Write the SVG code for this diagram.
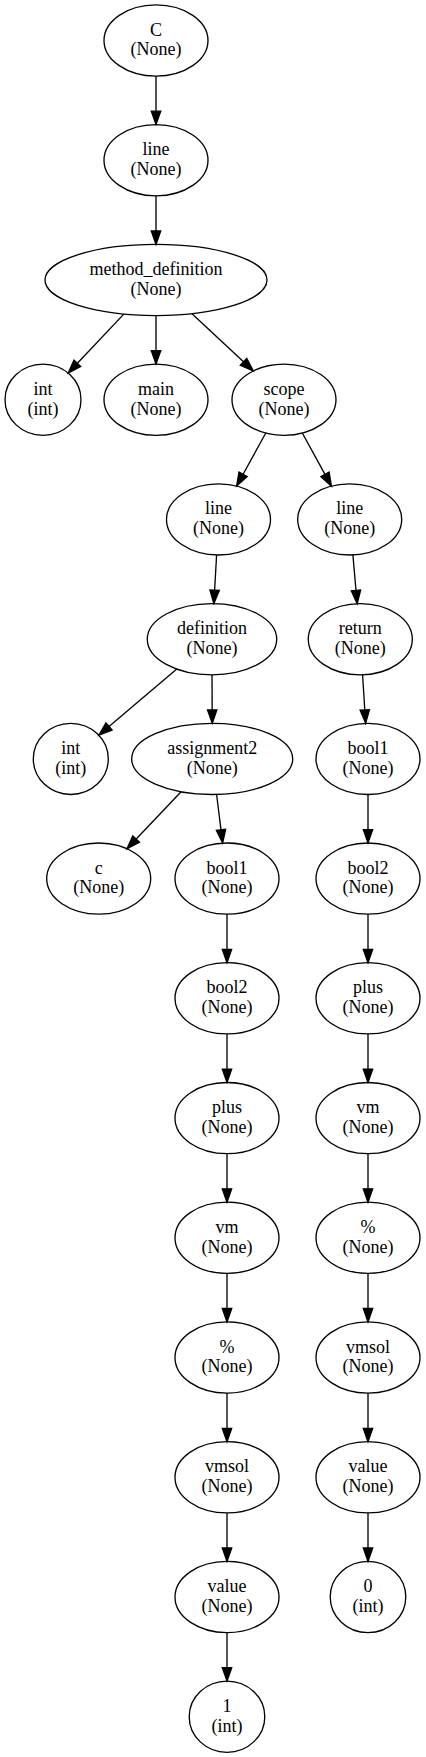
<svg xmlns="http://www.w3.org/2000/svg" width="426" height="1757" viewBox="0 0 426 1757">
<style>
ellipse{fill:none;stroke:#000;stroke-width:1.33}
text{font-family:"Liberation Serif","Times New Roman",serif;font-size:18px;text-anchor:middle;fill:#000}
.e path{fill:none;stroke:#000;stroke-width:1.33;marker-end:url(#arr)}
</style>
<defs>
<marker id="arr" markerUnits="userSpaceOnUse" markerWidth="14" markerHeight="10" refX="0" refY="4.7" orient="auto" overflow="visible"><path d="M0,0 L13.4,4.7 L0,9.4 z" fill="#000" stroke="#000" stroke-width="1.33"/></marker>
</defs>
<rect width="426" height="1757" fill="#fff"/>
<g id="connectors" class="e">
<path d="M156,76.1 L156,111.2"/>
<path d="M156,195.8 L156,231"/>
<path d="M123.8,314.1 L77.4,363.3"/>
<path d="M156,315.6 L156,350.7"/>
<path d="M192,313.7 L243.5,361.8"/>
<path d="M265.8,433 L243.1,474.3"/>
<path d="M302.3,433 L325,474.4"/>
<path d="M216.6,555 L214.6,590.2"/>
<path d="M352.9,555 L356,590.3"/>
<path d="M176.8,669.1 L109,726.5"/>
<path d="M212,674.8 L212.2,709.9"/>
<path d="M362.6,674.8 L364.8,709.9"/>
<path d="M181.1,791.7 L136.2,839"/>
<path d="M216.6,794.5 L221,829.8"/>
<path d="M368,794.5 L368,829.6"/>
<path d="M227,914.2 L227,949.3"/>
<path d="M227,1033.9 L227,1069.1"/>
<path d="M227,1153.7 L227,1188.8"/>
<path d="M227,1273.4 L227,1308.5"/>
<path d="M227,1393.1 L227,1428.3"/>
<path d="M227,1512.9 L227,1548"/>
<path d="M227,1632.6 L227,1667.7"/>
<path d="M368,914.2 L368,949.3"/>
<path d="M368,1033.9 L368,1069.1"/>
<path d="M368,1153.7 L368,1188.8"/>
<path d="M368,1273.4 L368,1308.5"/>
<path d="M368,1393.1 L368,1428.3"/>
<path d="M368,1512.9 L368,1548"/>
</g>
<g id="n_C"><ellipse cx="156" cy="40.5" rx="52" ry="35.6"/><text x="156" y="35.5">C</text><text x="156" y="55.3">(None)</text></g>
<g id="n_line0"><ellipse cx="156" cy="160.2" rx="52" ry="35.6"/><text x="156" y="155.2">line</text><text x="156" y="175">(None)</text></g>
<g id="n_method_definition"><ellipse cx="156" cy="280" rx="111" ry="35.6"/><text x="156" y="275">method_definition</text><text x="156" y="294.8">(None)</text></g>
<g id="n_int0"><ellipse cx="43" cy="399.7" rx="38" ry="35.6"/><text x="43" y="394.7">int</text><text x="43" y="414.5">(int)</text></g>
<g id="n_main"><ellipse cx="156" cy="399.7" rx="52" ry="35.6"/><text x="156" y="394.7">main</text><text x="156" y="414.5">(None)</text></g>
<g id="n_scope"><ellipse cx="284" cy="399.7" rx="52" ry="35.6"/><text x="284" y="394.7">scope</text><text x="284" y="414.5">(None)</text></g>
<g id="n_line1"><ellipse cx="218.5" cy="519.4" rx="52" ry="35.6"/><text x="218.5" y="514.4">line</text><text x="218.5" y="534.2">(None)</text></g>
<g id="n_line2"><ellipse cx="349.7" cy="519.4" rx="52" ry="35.6"/><text x="349.7" y="514.4">line</text><text x="349.7" y="534.2">(None)</text></g>
<g id="n_definition"><ellipse cx="212" cy="639.2" rx="64.7" ry="35.6"/><text x="212" y="634.2">definition</text><text x="212" y="654">(None)</text></g>
<g id="n_return"><ellipse cx="360.3" cy="639.2" rx="52" ry="35.6"/><text x="360.3" y="634.2">return</text><text x="360.3" y="654">(None)</text></g>
<g id="n_int1"><ellipse cx="70.8" cy="758.9" rx="37.5" ry="35.6"/><text x="70.8" y="753.9">int</text><text x="70.8" y="773.7">(int)</text></g>
<g id="n_assignment2"><ellipse cx="212.2" cy="758.9" rx="80.5" ry="35.6"/><text x="212.2" y="753.9">assignment2</text><text x="212.2" y="773.7">(None)</text></g>
<g id="n_bool1_r"><ellipse cx="368" cy="758.9" rx="52" ry="35.6"/><text x="368" y="753.9">bool1</text><text x="368" y="773.7">(None)</text></g>
<g id="n_c"><ellipse cx="98.7" cy="878.6" rx="52" ry="35.6"/><text x="98.7" y="873.6">c</text><text x="98.7" y="893.4">(None)</text></g>
<g id="n_bool1_l"><ellipse cx="227" cy="878.6" rx="52" ry="35.6"/><text x="227" y="873.6">bool1</text><text x="227" y="893.4">(None)</text></g>
<g id="n_bool2_r"><ellipse cx="368" cy="878.6" rx="52" ry="35.6"/><text x="368" y="873.6">bool2</text><text x="368" y="893.4">(None)</text></g>
<g id="n_bool2_l"><ellipse cx="227" cy="998.3" rx="52" ry="35.6"/><text x="227" y="993.3">bool2</text><text x="227" y="1013.1">(None)</text></g>
<g id="n_plus_r"><ellipse cx="368" cy="998.3" rx="52" ry="35.6"/><text x="368" y="993.3">plus</text><text x="368" y="1013.1">(None)</text></g>
<g id="n_plus_l"><ellipse cx="227" cy="1118.1" rx="52" ry="35.6"/><text x="227" y="1113.1">plus</text><text x="227" y="1132.9">(None)</text></g>
<g id="n_vm_r"><ellipse cx="368" cy="1118.1" rx="52" ry="35.6"/><text x="368" y="1113.1">vm</text><text x="368" y="1132.9">(None)</text></g>
<g id="n_vm_l"><ellipse cx="227" cy="1237.8" rx="52" ry="35.6"/><text x="227" y="1232.8">vm</text><text x="227" y="1252.6">(None)</text></g>
<g id="n_pct_r"><ellipse cx="368" cy="1237.8" rx="52" ry="35.6"/><text x="368" y="1232.8">%</text><text x="368" y="1252.6">(None)</text></g>
<g id="n_pct_l"><ellipse cx="227" cy="1357.5" rx="52" ry="35.6"/><text x="227" y="1352.5">%</text><text x="227" y="1372.3">(None)</text></g>
<g id="n_vmsol_r"><ellipse cx="368" cy="1357.5" rx="52" ry="35.6"/><text x="368" y="1352.5">vmsol</text><text x="368" y="1372.3">(None)</text></g>
<g id="n_vmsol_l"><ellipse cx="227" cy="1477.3" rx="52" ry="35.6"/><text x="227" y="1472.3">vmsol</text><text x="227" y="1492.1">(None)</text></g>
<g id="n_value_r"><ellipse cx="368" cy="1477.3" rx="52" ry="35.6"/><text x="368" y="1472.3">value</text><text x="368" y="1492.1">(None)</text></g>
<g id="n_value_l"><ellipse cx="227" cy="1597" rx="52" ry="35.6"/><text x="227" y="1592">value</text><text x="227" y="1611.8">(None)</text></g>
<g id="n_0"><ellipse cx="368" cy="1597" rx="37.8" ry="35.6"/><text x="368" y="1592">0</text><text x="368" y="1611.8">(int)</text></g>
<g id="n_1"><ellipse cx="227" cy="1716.7" rx="37.8" ry="35.6"/><text x="227" y="1711.7">1</text><text x="227" y="1731.5">(int)</text></g>
</svg>
